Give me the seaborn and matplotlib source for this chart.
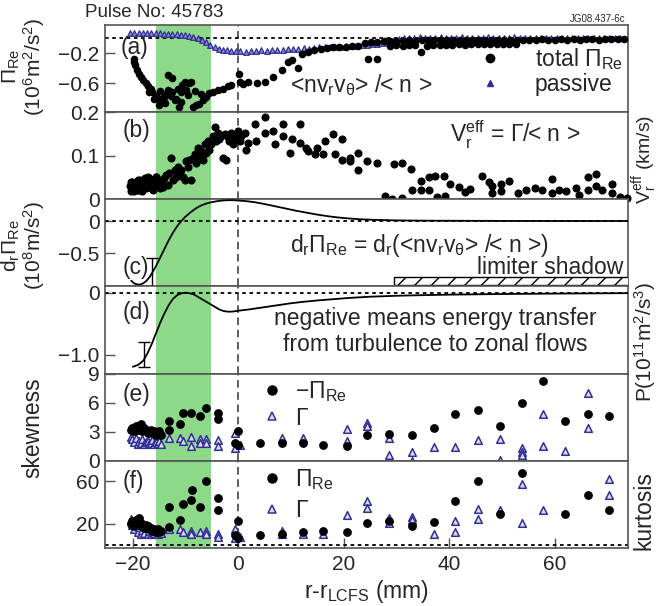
import numpy as np
import pandas as pd
import matplotlib
matplotlib.use('Agg')
import matplotlib.pyplot as plt
import seaborn as sns
from matplotlib.lines import Line2D
from matplotlib.patches import Rectangle

# ---------------- data ----------------
# (a) total Reynolds stress (black) and passive (blue triangles)
a_total_x = [-19.8, -19.7, -19.6, -19.3, -18.8, -18.4, -18.0, -17.5, -17.2, -16.6, -16.3, -15.6, -15.0,
             -14.4, -15.0, -14.0, -13.6, -13.4, -13.4, -12.8, -12.5, -12.5, -12.1, -11.5, -11.2, -10.8,
             -10.6, -10.2, -9.9, -9.3, -8.9, -8.6, -8.0, -7.4, -6.7, -6.1, -5.5, -4.8, -3.9, -2.9, -2.0,
             -1.3, -14.8, -13.9, -11.8, -10.9, -9.6, -8.2, -7.0, -16.0, -17.0,
             0.1, 0.3, 0.9, 1.9, 3.5, 5.0, 6.6, 8.2, 9.5, 10.1, 11.4,
             24.6, 26.3,
             12.0, 13.2, 14.4, 15.6, 16.8, 18.0, 19.2, 20.4, 21.6, 22.8, 28.8, 30.0, 31.2, 32.4, 33.6,
             34.6, 35.8, 37.0, 38.2, 39.4, 40.6, 41.8, 43.0, 44.2, 45.4, 46.6, 47.8, 49.0, 50.2, 51.4, 52.6,
             24.0, 25.2, 26.4, 27.6, 28.8, 30.0, 31.2, 32.4, 33.6, 34.8, 36.0, 37.2, 38.4, 39.6, 40.8,
             42.0, 43.2, 44.4, 45.6, 46.8, 48.0, 49.2, 50.4, 51.6, 52.8, 54.0, 55.2, 56.4, 57.6, 58.8,
             60.0, 61.2, 62.4, 63.6, 64.8, 66.0, 67.2, 68.4, 69.6, 70.8, 72.0, 73.2]
a_total_y = [-0.27, -0.31, -0.36, -0.42, -0.47, -0.51, -0.56, -0.60, -0.64, -0.67, -0.71, -0.76, -0.80,
             -0.82, -0.89, -0.78, -0.73, -0.69, -0.49, -0.76, -0.71, -0.53, -0.82, -0.67, -0.91, -0.71,
             -0.62, -0.58, -0.69, -0.60, -0.58, -0.91, -0.89, -0.87, -0.82, -0.78, -0.73, -0.71, -0.69,
             -0.67, -0.64, -0.62, -0.70, -0.86, -0.80, -0.84, -0.75, -0.70, -0.74, -0.80, -0.72,
             -0.47, -0.58, -0.61, -0.58, -0.59, -0.58, -0.52, -0.42, -0.32, -0.29, -0.39,
             -0.28, -0.27,
             -0.21, -0.18, -0.16, -0.14, -0.13, -0.12, -0.115, -0.11, -0.105, -0.10, -0.095, -0.09, -0.095,
             -0.085, -0.09, -0.185, -0.10, -0.09, -0.085, -0.09, -0.085, -0.08, -0.085, -0.08, -0.075,
             -0.08, -0.075, -0.07, -0.075, -0.07, -0.07,
             -0.055, -0.05, -0.045, -0.04, -0.035, -0.03, -0.03, -0.025, -0.03, -0.02, -0.025, -0.02,
             -0.025, -0.02, -0.018, -0.022, -0.018, -0.02, -0.015, -0.02, -0.018, -0.015, -0.02, -0.015,
             -0.018, -0.015, -0.02, -0.015, -0.012, -0.018, -0.015, -0.012, -0.015, -0.01, -0.015, -0.012,
             -0.01, -0.015, -0.012, -0.01, -0.012, -0.01]
a_pass_x = [-20.5, -19.7, -18.9, -18.1, -17.3, -16.5, -15.7, -14.9, -14.1, -13.3, -12.5, -11.7, -10.9,
            -10.1, -9.3, -8.5, -7.7, -6.9, -6.1, -5.3, -4.5, -3.7, -2.9, -2.1, -1.3, -0.5,
            0.4, 1.4, 2.4, 3.4, 4.4, 5.4, 6.4, 7.4, 8.4, 9.4, 10.4, 11.4, 12.4, 13.4, 14.4, 15.4, 16.4,
            17.4, 18.4, 19.4, 20.4, 21.4, 22.4, 23.4, 24.4, 25.4, 26.4, 27.4, 28.4, 29.4, 30.4, 31.4,
            32.4, 33.4, 34.4, 35.4, 36.4, 37.4, 38.4, 39.4, 40.4, 41.4, 42.4, 43.4, 44.4, 45.4, 46.4,
            47.4, 48.4, 49.4, 50.4, 51.4, 52.4, 53.4, 54.4, 55.4, 56.4, 57.4, 58.4, 59.4, 60.4, 61.4,
            62.4, 63.4, 64.4, 65.4, 66.4, 67.4, 68.4, 69.4, 70.4, 71.4, 72.4]
a_pass_y = [0.075, 0.074, 0.072, 0.071, 0.070, 0.068, 0.067, 0.066, 0.064, 0.061, 0.058,
            0.054, 0.048, 0.040, 0.030, 0.018, 0.003, -0.02, -0.05, -0.085, -0.115, -0.135, -0.15,
            -0.16, -0.165, -0.17,
            -0.17, -0.175, -0.165, -0.17, -0.16, -0.165, -0.155, -0.16, -0.15, -0.145, -0.14, -0.14,
            -0.13, -0.135, -0.125, -0.12, -0.12, -0.115, -0.11, -0.11, -0.105, -0.10, -0.095, -0.09,
            -0.085, -0.08, -0.07, -0.06, -0.045, -0.03,
            -0.01, 0.0, 0.01, 0.005, 0.015, 0.005, 0.01, 0.0, 0.012, 0.005, 0.01, 0.0, 0.015, 0.005,
            0.008, 0.0, 0.01, 0.012, 0.003, 0.01, 0.0, 0.008, 0.012, 0.002, 0.01, 0.005, 0.0, 0.01,
            0.006, 0.0, 0.008, 0.003, 0.01, 0.0, 0.005, 0.008, 0.0, 0.006, 0.002, 0.0, 0.005, 0.0, 0.002]

# (b) effective radial velocity
b_x = [-20.5, -20.3, -20.1, -19.9, -19.7, -19.5, -19.3, -19.1, -18.9, -18.7, -18.5, -18.3, -18.1,
       -17.9, -17.7, -17.5, -17.3, -17.1, -16.9, -16.7, -16.5, -16.3, -16.1, -15.9, -15.7, -15.5,
       -15.3, -15.1, -14.9, -14.7, -20.4, -19.8, -19.2, -18.6, -18.0, -17.4, -16.8, -16.2, -15.6, -15.0,
       -14.3, -14.0, -13.7, -13.4, -13.1, -12.8, -12.4, -12.1, -11.8, -11.5, -11.2, -10.9, -10.5,
       -10.2, -9.9, -9.6, -9.3, -8.9, -8.6, -8.3, -8.0, -7.7, -7.4, -7.0, -6.7, -6.4, -6.1, -5.8,
       -5.5, -5.1, -4.8, -4.5, -4.2, -3.9, -3.6, -3.2, -2.9, -2.6, -2.3, -2.0, -1.7, -1.3, -1.0,
       -0.7, -0.4, 0.0, 0.3, 0.6, 1.2, 1.5, 1.8, 3.1, 3.4, 5.0, 5.0, 6.6, 6.9, 8.5, 8.5, 9.8, 10.1,
       11.7, 11.7, 12.9, 13.3, 14.5, 14.9, 16.1, 16.4, 18.0, 18.3, 19.6, 19.6, 21.2, 21.2, 22.8,
       22.8, 24.4, 26.3,
       27.9, 29.1, 29.5, 31.1, 31.1, 32.8, 33.0, 34.6, 34.6, 36.2, 36.2, 37.4, 37.7, 39.0, 39.3,
       40.2, 41.5, 41.8, 43.1, 44.0, 46.3, 47.6, 48.2, 48.2, 49.8, 49.8, 51.4, 53.0, 54.6, 56.2,
       57.7, 59.6, 59.6, 60.9, 62.2, 64.1, 64.7, 66.3, 66.3, 67.9, 67.9, 69.1, 70.9, 70.9, 72.5, 73.8]
b_y = [0.030, 0.020, 0.040, 0.025, 0.018, 0.035, 0.028, 0.045, 0.022, 0.032, 0.038, 0.020, 0.042,
       0.030, 0.048, 0.025, 0.035, 0.050, 0.028, 0.040, 0.032, 0.045, 0.022, 0.038, 0.050, 0.030,
       0.042, 0.035, 0.025, 0.040, 0.040, 0.032, 0.022, 0.045, 0.030, 0.038, 0.046, 0.028, 0.052, 0.036,
       0.029, 0.048, 0.056, 0.033, 0.060, 0.095, 0.044, 0.068, 0.052, 0.075, 0.060, 0.068, 0.052,
       0.044, 0.087, 0.075, 0.091, 0.044, 0.095, 0.103, 0.083, 0.118, 0.099, 0.110, 0.091, 0.126,
       0.107, 0.134, 0.114, 0.126, 0.146, 0.165, 0.134, 0.153, 0.138, 0.146, 0.095, 0.150, 0.091,
       0.142, 0.134, 0.153, 0.126, 0.138, 0.150, 0.157, 0.134, 0.146, 0.153, 0.114, 0.130, 0.173,
       0.134, 0.188, 0.153, 0.157, 0.126, 0.173, 0.146, 0.107, 0.138, 0.173, 0.130, 0.118, 0.110,
       0.103, 0.118, 0.103, 0.134, 0.150, 0.103, 0.138, 0.091, 0.095, 0.087, 0.107, 0.068, 0.087,
       0.083,
       0.008, 0.0, 0.081, 0.084, 0.002, 0.070, 0.022, 0.042, 0.022, 0.050, 0.022, 0.054, 0.005,
       0.054, 0.008, 0.034, -0.012, 0.028, 0.016, 0.024, 0.054, 0.040, 0.030, 0.014, 0.034, 0.018,
       0.042, 0.014, 0.022, 0.026, 0.022, 0.046, 0.014, 0.022, 0.018, 0.026, 0.010, 0.050, 0.022,
       0.058, 0.030, 0.022, 0.034, 0.014, 0.005, 0.002]

# (c) radial derivative of Reynolds stress
c_x = [-20.3, -19.8, -19.2, -18.6, -18.0, -17.4, -16.8, -16.2, -15.6, -15.0, -14.4, -13.8, -13.2,
       -12.6, -12.0, -11.4, -10.8, -10.0, -9.0, -8.0, -7.0, -6.0, -5.0, -4.0, -3.0, -2.0, -1.0, 0.0,
       1.5, 3.0, 5.0, 7.0, 9.0, 11.0, 13.0, 15.0, 17.0, 19.0, 21.0, 23.0, 26.0, 30.0, 35.0, 40.0,
       50.0, 60.0, 74.0]
c_y = [-0.93, -0.97, -0.99, -0.99, -0.97, -0.93, -0.87, -0.79, -0.70, -0.60, -0.50, -0.40, -0.30,
       -0.21, -0.13, -0.06, 0.0, 0.07, 0.14, 0.20, 0.245, 0.275, 0.295, 0.31, 0.32, 0.325, 0.325,
       0.32, 0.31, 0.295, 0.265, 0.23, 0.195, 0.16, 0.13, 0.10, 0.075, 0.055, 0.04, 0.028, 0.018,
       0.01, 0.006, 0.004, 0.002, 0.001, 0.0]
c_err_x = [-16.3]
c_err_y = [-0.97]
c_err = [0.40]

# (d) energy transfer P
d_x = [-20.0, -19.0, -18.0, -17.2, -16.4, -15.6, -14.8, -14.0, -13.2, -12.4, -11.6, -10.8, -10.0,
       -9.2, -8.4, -7.6, -6.8, -6.0, -5.2, -4.4, -3.6, -2.8, -2.0, -1.2, 0.0, 2.0, 4.0, 6.0, 8.0,
       10.0, 12.0, 15.0, 18.0, 21.0, 25.0, 30.0, 35.0, 40.0, 50.0, 60.0, 74.0]
d_y = [-1.19, -1.16, -1.09, -0.97, -0.82, -0.65, -0.48, -0.33, -0.20, -0.10, -0.04, -0.01, 0.0,
       -0.01, -0.03, -0.07, -0.11, -0.15, -0.19, -0.23, -0.27, -0.295, -0.305, -0.305, -0.29, -0.27,
       -0.245, -0.22, -0.195, -0.17, -0.15, -0.125, -0.105, -0.085, -0.065, -0.05, -0.04, -0.032,
       -0.022, -0.015, -0.008]
d_err_x = [-17.8]
d_err_y = [-0.99]
d_err = [0.20]

# (e) skewness
e_pi_x = [-20.4, -20.1, -19.7, -19.4, -19.1, -18.8, -18.5, -18.2, -17.8, -17.5, -17.2, -16.9, -16.6,
          -16.3, -16.0, -15.6, -15.3, -15.0, -14.7,
          -13.1, -13.1, -11.0, -10.5, -8.9, -7.3, -6.1, -3.9, -3.8, 0.0, -0.6, 0.0, 4.1, 8.2, 12.3,
          16.1, 20.6, 24.4, 28.5, 33.0, 37.1, 41.2, 45.5, 49.6, 53.8, 57.9, 62.0, 66.3, 70.4]
e_pi_y = [3.22, 3.4, 3.05, 3.57, 3.22, 3.4, 3.75, 3.05, 3.4, 3.22, 2.87, 3.05, 3.22, 2.87, 3.05,
          2.7, 2.87, 3.05, 2.7,
          4.1, 3.2, 3.85, 4.97, 4.97, 4.62, 5.4, 4.97, 4.27, 3.05, 1.82, 1.65, 1.89, 1.82, 1.89,
          1.65, 1.54, 2.7, 2.8, 2.63, 3.4, 4.8, 5.22, 3.64, 5.95, 8.2, 4.1, 4.87, 4.62]
e_g_x = [-20.4, -20.1, -19.7, -19.4, -19.1, -18.8, -18.5, -18.2, -17.8, -17.5, -17.2, -16.9, -16.6,
         -16.3, -16.0, -15.6, -15.3, -15.0, -14.7,
         -13.1, -11.0, -10.5, -8.9, -8.9, -7.3, -7.3, -6.1, -6.1, -3.9, -3.9, -0.7, -0.7, 0.3, 8.2,
         12.3, 20.6, 20.6, 24.4, 24.4, 28.5, 28.5, 33.0, 33.0, 37.1, 41.2, 41.2, 45.5, 49.6, 49.6,
         53.8, 53.8, 53.8, 57.9, 57.9, 62.0, 66.3, 66.3]
e_g_y = [2.5, 2.2, 1.9, 2.35, 1.7, 2.0, 1.8, 2.2, 1.7, 1.9, 2.0, 1.7, 1.8, 2.1, 1.7, 1.9, 1.8, 2.0, 1.7,
         2.35, 2.35, 2.0, 2.5, 1.5, 2.2, 1.8, 2.2, 1.8, 2.17, 1.54, 2.87, 1.3, 1.65, 2.35,
         2.35, 3.29, 2.0, 3.92, 3.57, 2.35, 0.6, 0.95, 0.0, 1.47, 1.4, -0.56, 2.1, 2.24, 0.07,
         1.3, 0.95, 0.6, 4.87, 1.54, 1.05, 7.0, 3.4]

# (f) kurtosis
f_pi_x = [-20.4, -20.1, -19.7, -19.4, -19.1, -18.8, -18.5, -18.2, -17.8, -17.5, -17.2, -16.9, -16.6,
          -16.3, -16.0, -15.6, -15.3, -15.0, -14.7,
          -13.1, -13.1, -11.0, -10.5, -8.9, -8.8, -7.3, -6.2, -3.9, -3.8, 0.0, -0.7, 0.0, 4.1, 8.2,
          12.3, 16.1, 20.6, 24.4, 28.5, 33.0, 37.1, 41.2, 45.5, 49.6, 53.8, 62.0, 66.3, 70.4]
f_pi_y = [20, 22, 17.7, 23.5, 19, 25, 20.6, 17.7, 16.2, 19, 17.7, 14.7, 16.2, 13.3, 15.3, 12.4, 14.7,
          11.8, 13.3,
          35.2, 17.1, 22.9, 38.1, 42.5, 51.2, 35.2, 60, 43.9, 32.8, 22, 9, 6, 8.9, 9.8,
          11.8, 12.7, 11.8, 20.6, 22, 17.7, 21.2, 41, 60, 29.3, 67.3, 29.3, 46.9, 32.3]
f_g_x = [-20.4, -20.1, -19.7, -19.4, -19.1, -18.8, -18.5, -18.2, -17.8, -17.5, -17.2, -16.9, -16.6,
         -16.3, -16.0, -15.6, -15.3, -15.0, -14.7,
         -13.1, -11.0, -10.5, -8.9, -8.9, -7.3, -6.1, -6.1, -3.9, -3.9, -0.7, -0.7, 0.3, 8.2, 8.2,
         12.3, 16.1, 20.6, 24.4, 24.4, 28.5, 28.5, 33.0, 33.0, 37.1, 41.2, 41.2, 45.5, 45.5, 49.6,
         53.8, 53.8, 57.9, 70.4, 70.4]
f_g_y = [24, 19, 15, 21, 12, 17, 10.5, 14, 11, 16, 10, 13, 10, 12, 11, 14, 10, 12, 11,
         14.7, 15.3, 11.8, 13.3, 10.4, 11.8, 13.3, 10.4, 10.4, 7.4, 14.7, 6, 7.4, 13.3, 10.4,
         10.4, 10.4, 27.9, 41, 34.6, 25, 20.6, 26.4, 23.5, 10.4, 22, 11.8, 33.7, 24.1, 32.3,
         20.6, 57, 32.3, 61.5, 46.9]

x_ticks = [-20, 0, 20, 40, 60]

# ---------------- style ----------------
sns.set_theme(style='white')
FONT = 'Liberation Sans'
FS_TICK = 15
FS = 16.5
plt.rcParams['font.family'] = [FONT, 'DejaVu Sans']
plt.rcParams['mathtext.fontset'] = 'custom'
plt.rcParams['mathtext.rm'] = FONT
plt.rcParams['mathtext.it'] = FONT + ':italic'
plt.rcParams['mathtext.bf'] = FONT + ':bold'
plt.rcParams['mathtext.default'] = 'regular'
plt.rcParams['hatch.linewidth'] = 1.0

GREEN = '#8ed889'
NAVY = '#2f2f96'
TRI_FACE = '#dcdcf2'
TRI_FACE_A = '#8a8ad0'
SPINE = '#555555'

fig = plt.figure(figsize=(6.6, 6.06), dpi=100)
gs = fig.add_gridspec(6, 1, left=0.159, right=0.952, top=0.959, bottom=0.0957, hspace=0)
axes = [fig.add_subplot(gs[i]) for i in range(6)]

for i, ax in enumerate(axes):
    ax.set_xlim(-25.3, 74)
    ax.axvspan(-15.7, -5.2, color=GREEN, lw=0, zorder=0)
    ax.axvline(0, color='#333333', lw=1.1, ls=(0, (5, 3)), zorder=1)
    for s in ax.spines.values():
        s.set_color(SPINE)
        s.set_linewidth(1.2)
    ax.tick_params(axis='y', left=True, right=False, direction='in', length=7, width=1,
                   labelsize=FS_TICK, pad=4, color=SPINE)
    ax.set_xticks(x_ticks)
    if i < 5:
        ax.tick_params(axis='x', bottom=False, labelbottom=False)
    else:
        ax.tick_params(axis='x', bottom=True, direction='in', length=7, width=1,
                       labelsize=FS_TICK, pad=5, color=SPINE)
    ax.set_xlabel('')
    ax.set_ylabel('')

# (a)
ax = axes[0]
ax.set_ylim(-0.98, 0.18)
ax.axhline(0, color='black', lw=1.3, ls=(0, (2, 2)), zorder=1)
sns.scatterplot(x=a_pass_x, y=a_pass_y, ax=ax, marker='^', s=16, color=TRI_FACE_A,
                edgecolor=NAVY, linewidth=0.9, zorder=3, legend=False)
sns.scatterplot(x=a_total_x, y=a_total_y, ax=ax, marker='o', s=30, color='black',
                linewidth=0, zorder=4, legend=False)
ax.set_yticks([-0.2, -0.6])
ax.set_yticklabels(['\u22120.2', '\u22120.6'])
ax.set_ylabel('\u03a0$_{Re}$\n(10$^6$m$^2$/s$^2$)', fontsize=FS_TICK, linespacing=0.95)
ax.yaxis.set_label_coords(-0.11, 0.52)
ax.text(0.03, 0.74, '(a)', transform=ax.transAxes, fontsize=FS, va='center', ha='left')
ax.text(0.354, 0.31, '<nv$_r$v$_\u03b8$> /< n >', transform=ax.transAxes, fontsize=FS,
        va='center', ha='left')
h1 = Line2D([], [], ls='', marker='o', color='black', markersize=6)
h2 = Line2D([], [], ls='', marker='^', color=NAVY, markersize=4)
ax.legend([h1, h2], ['total \u03a0$_{Re}$', 'passive'], loc='upper left',
          bbox_to_anchor=(0.714, 0.76), frameon=False, fontsize=FS, handlelength=1.0,
          handletextpad=1.45, labelspacing=0.05, borderpad=0, borderaxespad=0)

# (b)
ax = axes[1]
ax.set_ylim(0, 0.2)
sns.scatterplot(x=b_x, y=b_y, ax=ax, marker='o', s=34, color='black', linewidth=0,
                zorder=4, legend=False, clip_on=False)
ax.set_yticks([0, 0.1, 0.2])
ax.set_yticklabels(['0', '0.1', '0.2'])
ax.yaxis.set_label_position('right')
ax.set_ylabel('V$_r^{eff}$ (km/s)', fontsize=14)
ax.yaxis.set_label_coords(1.004, 0.46)
ax.text(0.033, 0.79, '(b)', transform=ax.transAxes, fontsize=FS, va='center', ha='left')
ax.text(0.66, 0.74, 'V$_r^{eff}$ = \u0393/< n >', transform=ax.transAxes, fontsize=FS,
        va='center', ha='left')

# (c)
ax = axes[2]
ax.set_ylim(-1.02, 0.34)
ax.axhline(0, color='black', lw=1.3, ls=(0, (2, 2)), zorder=1)
sns.lineplot(x=c_x, y=c_y, ax=ax, color='black', lw=1.3, sort=False, estimator=None, zorder=4)
ax.errorbar(c_err_x, c_err_y, yerr=c_err, fmt='none', ecolor='black', elinewidth=1,
            capsize=4, zorder=4)
ax.add_patch(Rectangle((29.5, -1.0), 50, 0.125, facecolor='white', edgecolor='black',
                       hatch='//', lw=1, zorder=3))
ax.set_yticks([0, -0.5])
ax.set_yticklabels(['0', '\u22120.5'])
ax.set_ylabel('d$_r$\u03a0$_{Re}$\n(10$^8$m/s$^2$)', fontsize=FS_TICK, linespacing=0.95)
ax.yaxis.set_label_coords(-0.11, 0.47)
ax.text(0.033, 0.22, '(c)', transform=ax.transAxes, fontsize=FS, va='center', ha='left')
ax.text(0.354, 0.47, 'd$_r$\u03a0$_{Re}$ = d$_r$(<nv$_r$v$_\u03b8$> /< n >)',
        transform=ax.transAxes, fontsize=FS, va='center', ha='left')
ax.text(0.99, 0.22, 'limiter shadow', transform=ax.transAxes, fontsize=FS, va='center',
        ha='right')

# (d)
ax = axes[3]
ax.set_ylim(-1.3, 0.1)
ax.axhline(0, color='black', lw=1.3, ls=(0, (2, 2)), zorder=1)
sns.lineplot(x=d_x, y=d_y, ax=ax, color='black', lw=1.3, sort=False, estimator=None, zorder=4)
ax.errorbar(d_err_x, d_err_y, yerr=d_err, fmt='none', ecolor='black', elinewidth=1,
            capsize=4, zorder=4)
ax.set_yticks([0, -1.0])
ax.set_yticklabels(['0', '\u22121.0'])
ax.yaxis.set_label_position('right')
ax.set_ylabel('P(10$^{11}$m$^2$/s$^3$)', fontsize=FS_TICK)
ax.yaxis.set_label_coords(1.008, 0.36)
ax.text(0.033, 0.70, '(d)', transform=ax.transAxes, fontsize=FS, va='center', ha='left')
ax.text(0.632, 0.48, 'negative means energy transfer\nfrom turbulence to zonal flows',
        transform=ax.transAxes, fontsize=FS, va='center', ha='center', linespacing=1.15)

# (e)
ax = axes[4]
ax.set_ylim(0, 9)
sns.scatterplot(x=e_g_x, y=e_g_y, ax=ax, marker='^', s=30, color=TRI_FACE, edgecolor=NAVY,
                linewidth=1.1, zorder=3, legend=False, clip_on=False)
sns.scatterplot(x=e_pi_x, y=e_pi_y, ax=ax, marker='o', s=40, color='black', linewidth=0,
                zorder=4, legend=False)
ax.set_yticks([0, 3, 6, 9])
ax.set_yticklabels(['0', '3', '6', '9'])
ax.set_ylabel('skewness', fontsize=FS)
ax.yaxis.set_label_coords(-0.115, 0.38)
ax.text(0.033, 0.76, '(e)', transform=ax.transAxes, fontsize=FS, va='center', ha='left')
g1 = Line2D([], [], ls='', marker='o', color='black', markersize=6.5)
g2 = Line2D([], [], ls='', marker='^', markerfacecolor=TRI_FACE, markeredgecolor=NAVY,
            markeredgewidth=1.1, markersize=6)
ax.legend([g1, g2], ['\u2212\u03a0$_{Re}$', '\u0393'], loc='upper left',
          bbox_to_anchor=(0.297, 0.94), frameon=False, fontsize=FS, handlelength=1.0,
          handletextpad=0.5, labelspacing=0.12, borderpad=0, borderaxespad=0)

# (f)
ax = axes[5]
ax.set_ylim(-3, 79)
ax.axhline(0, color='black', lw=1.3, ls=(0, (2, 2)), zorder=1)
sns.scatterplot(x=f_g_x, y=f_g_y, ax=ax, marker='^', s=30, color=TRI_FACE, edgecolor=NAVY,
                linewidth=1.1, zorder=3, legend=False)
sns.scatterplot(x=f_pi_x, y=f_pi_y, ax=ax, marker='o', s=40, color='black', linewidth=0,
                zorder=4, legend=False)
ax.set_yticks([20, 60])
ax.set_yticklabels(['20', '60'])
ax.yaxis.set_label_position('right')
ax.set_ylabel('kurtosis', fontsize=FS)
ax.yaxis.set_label_coords(1.008, 0.43)
ax.text(0.033, 0.76, '(f)', transform=ax.transAxes, fontsize=FS, va='center', ha='left')
ax.legend([g1, g2], ['\u03a0$_{Re}$', '\u0393'], loc='upper left',
          bbox_to_anchor=(0.297, 0.93), frameon=False, fontsize=FS, handlelength=1.0,
          handletextpad=0.5, labelspacing=0.3, borderpad=0, borderaxespad=0)
ax.set_xticklabels(['\u221220', '0', '20', '40', '60'])
ax.set_xlabel('r-r$_{LCFS}$ (mm)', fontsize=FS, labelpad=3)

fig.text(0.129, 0.979, 'Pulse No: 45783', fontsize=13.5, ha='left', va='center')
fig.text(0.947, 0.968, 'JG08.437-6c', fontsize=7, ha='right', va='center')

fig.savefig('out.png', dpi=100)
